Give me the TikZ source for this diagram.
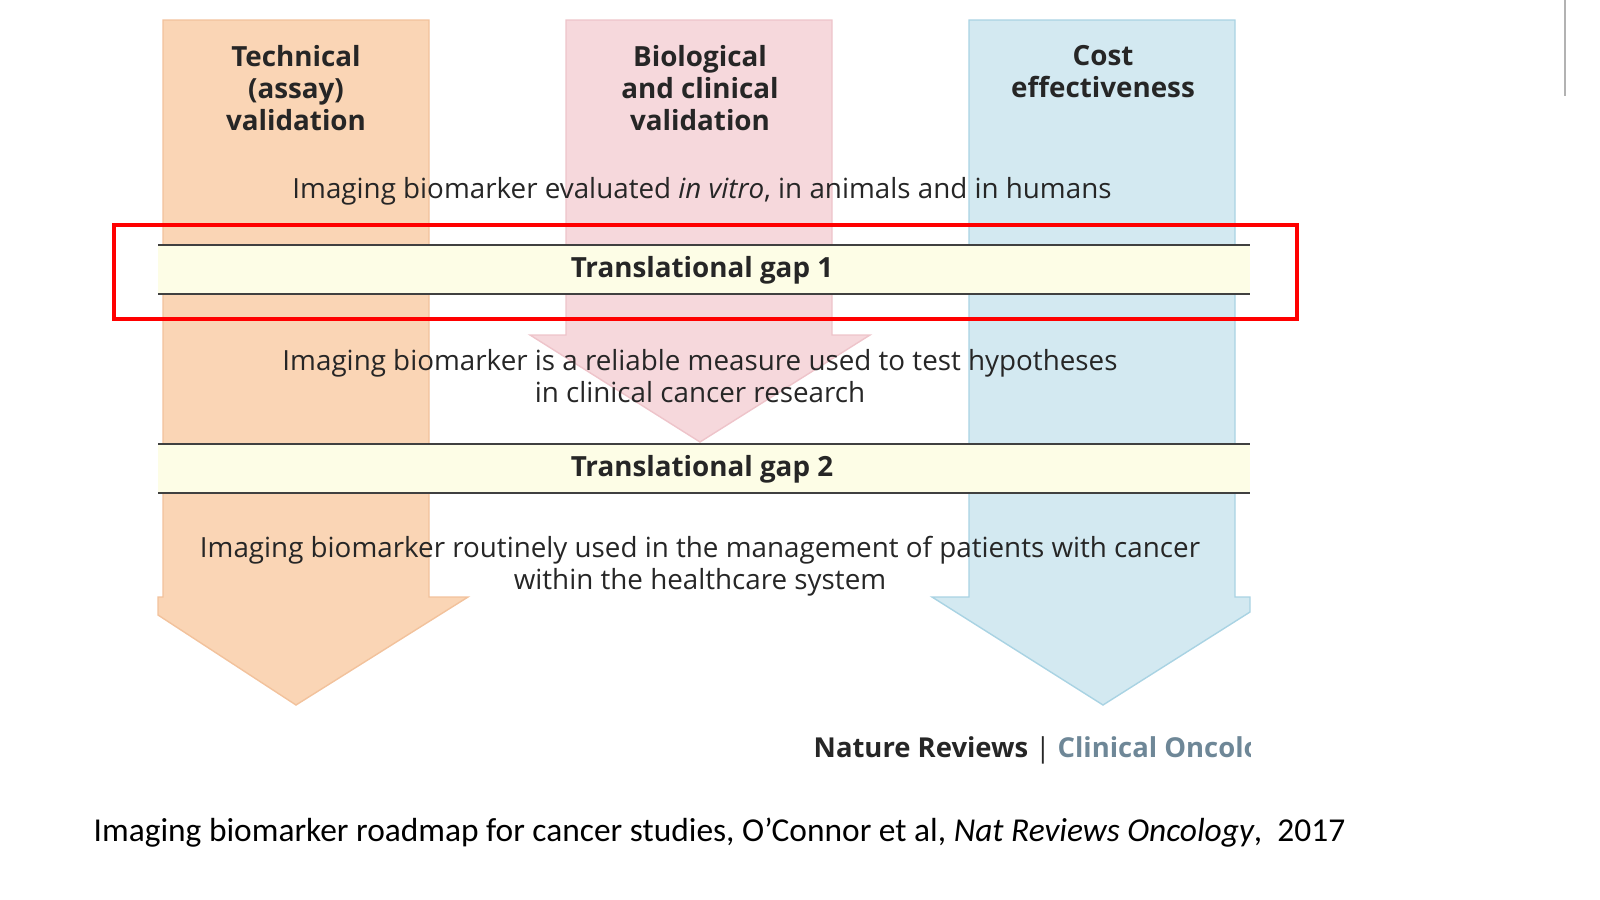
\documentclass[tikz,border=0pt]{standalone}
\usepackage{fontspec}
\setmainfont{Open Sans}
\newfontfamily\capfont{Carlito}
\definecolor{orA}{HTML}{FAD5B5}
\definecolor{orE}{HTML}{F2C29C}
\definecolor{piA}{HTML}{F6D8DC}
\definecolor{piE}{HTML}{EEC4CA}
\definecolor{blA}{HTML}{D3E9F1}
\definecolor{blE}{HTML}{A9D3E3}
\definecolor{gapF}{HTML}{FDFDE6}
\definecolor{natB}{HTML}{6E8797}
\begin{document}
\begin{tikzpicture}[x=0.01cm,y=-0.01cm,
  head/.style={font=\bfseries\fontsize{7.9}{9.1}\selectfont,align=center,text=black!85},
  body/.style={font=\fontsize{7.9}{9.1}\selectfont,align=center,text=black!85},
  gapband/.style={fill=gapF,draw=none},
  gapline/.style={draw=black!75,line width=0.5pt}]
\useasboundingbox (0,0) rectangle (1600,900);
% arrows
\draw[fill=orA,draw=orE,line width=0.4pt] (163,20)--(429,20)--(429,597)--(468,597)--(296,705)--(158,615)--(158,597)--(163,597)--cycle;
\draw[fill=piA,draw=piE,line width=0.4pt] (566,20)--(832,20)--(832,335)--(870,335)--(700,442)--(530,335)--(566,335)--cycle;
\draw[fill=blA,draw=blE,line width=0.4pt] (969,20)--(1235,20)--(1235,597)--(1250,597)--(1250,612)--(1103,705)--(932,597)--(969,597)--cycle;
% headings
\node[head] (h1) at (296,88) {Technical\\(assay)\\validation};
\node[head] (h2) at (700,88) {Biological\\and clinical\\validation};
\node[head] (h3) at (1103,72) {Cost\\effectiveness};
% texts
\node[body] (t1) at (702,191) {Imaging biomarker evaluated \textit{in vitro}, in animals and in humans};
\node[body] (t2) at (700,376) {Imaging biomarker is a reliable measure used to test hypotheses\\in clinical cancer research};
\node[body] (t3) at (700,566) {Imaging biomarker routinely used in the management of patients with cancer\\within the healthcare system};
% gaps
\fill[gapband] (158,245) rectangle (1250,294);
\draw[gapline] (158,245)--(1250,245) (158,294)--(1250,294);
\node[head] (g1) at (702,270) {Translational gap 1};
\fill[gapband] (158,444) rectangle (1250,493);
\draw[gapline] (158,444)--(1250,444) (158,493)--(1250,493);
\node[head] (g2) at (702,469) {Translational gap 2};
% red box
\draw[red,line width=1.2pt] (114,225) rectangle (1297,319);
% nature reviews
\begin{scope}
\clip (700,720) rectangle (1250,780);
\node[anchor=west,font=\bfseries\fontsize{7.8}{9}\selectfont,inner sep=0] (nr) at (813,750) {\textcolor{black!85}{Nature Reviews} \textcolor{black!85}{\mdseries|} \textcolor{natB}{Clinical Oncology}};
\end{scope}
% caption
\node[anchor=west,font=\capfont\fontsize{9.5}{11}\selectfont,inner sep=0] (cap) at (93,833) {Imaging biomarker roadmap for cancer studies, O’Connor et al, \textit{Nat Reviews Oncology},\ \ 2017};
\draw[black!30,line width=0.4pt] (1565,0)--(1565,96);
\end{tikzpicture}
\end{document}
